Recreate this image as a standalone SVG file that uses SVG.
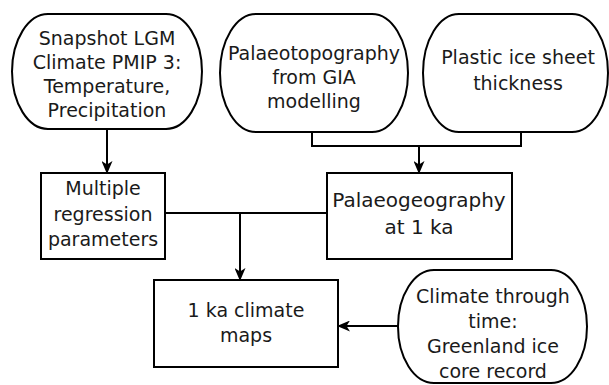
<svg xmlns="http://www.w3.org/2000/svg" width="609" height="385" viewBox="0 0 609 385">
<style>
.s{fill:#fff;stroke:#000;stroke-width:2}
.c{fill:none;stroke:#000;stroke-width:2}
text{font-family:"DejaVu Sans",Verdana,sans-serif;font-size:19px;fill:#1a1a1a;text-anchor:middle}
</style>
<defs>
<marker id="a" markerUnits="userSpaceOnUse" markerWidth="13" markerHeight="11" viewBox="0 0 13 11" refX="12" refY="5.5" orient="auto">
<path d="M0,0 L13,5.5 L0,11 L3.5,5.5 Z" fill="#000"/>
</marker>
</defs>
<rect width="609" height="385" fill="#fff"/>
<g id="connectors">
<path class="c" d="M107,129 V173" marker-end="url(#a)"/>
<path class="c" d="M312,132 V146 H521 V132"/>
<path class="c" d="M419,146 V173" marker-end="url(#a)"/>
<path class="c" d="M165,213 H327"/>
<path class="c" d="M240,213 V280" marker-end="url(#a)"/>
<path class="c" d="M398,326 H338" marker-end="url(#a)"/>
</g>
<g id="snapshot">
<path class="s" d="M48,14 H166 A36,57.5 0 0 1 166,129 H48 A36,57.5 0 0 1 48,14 Z"/>
<text x="107" y="45">Snapshot LGM</text>
<text x="107" y="69">Climate PMIP 3:</text>
<text x="107" y="93">Temperature,</text>
<text x="107" y="117">Precipitation</text>
</g>
<g id="palaeotopography">
<path class="s" d="M256,14 H372 A36,59 0 0 1 372,132 H256 A36,59 0 0 1 256,14 Z"/>
<text x="314" y="60">Palaeotopography</text>
<text x="314" y="84">from GIA</text>
<text x="314" y="108">modelling</text>
</g>
<g id="plastic">
<path class="s" d="M459,14 H572 A36,59 0 0 1 572,132 H459 A36,59 0 0 1 459,14 Z"/>
<text x="518" y="64">Plastic ice sheet</text>
<text x="518" y="90">thickness</text>
</g>
<g id="multiple">
<rect class="s" x="41" y="173" width="124" height="86"/>
<text x="103" y="195">Multiple</text>
<text x="103" y="221">regression</text>
<text x="103" y="246">parameters</text>
</g>
<g id="palaeogeography">
<rect class="s" x="327" y="173" width="185" height="86"/>
<text x="419" y="207" style="font-size:20px">Palaeogeography</text>
<text x="419" y="234" style="font-size:20px">at 1 ka</text>
</g>
<g id="maps">
<rect class="s" x="154" y="280" width="184" height="87"/>
<text x="246" y="317">1 ka climate</text>
<text x="246" y="342">maps</text>
</g>
<g id="climate">
<path class="s" d="M434,270 H551 A36,56.5 0 0 1 551,383 H434 A36,56.5 0 0 1 434,270 Z"/>
<text x="493" y="303">Climate through</text>
<text x="493" y="328">time:</text>
<text x="493" y="353">Greenland ice</text>
<text x="493" y="378">core record</text>
</g>
</svg>
